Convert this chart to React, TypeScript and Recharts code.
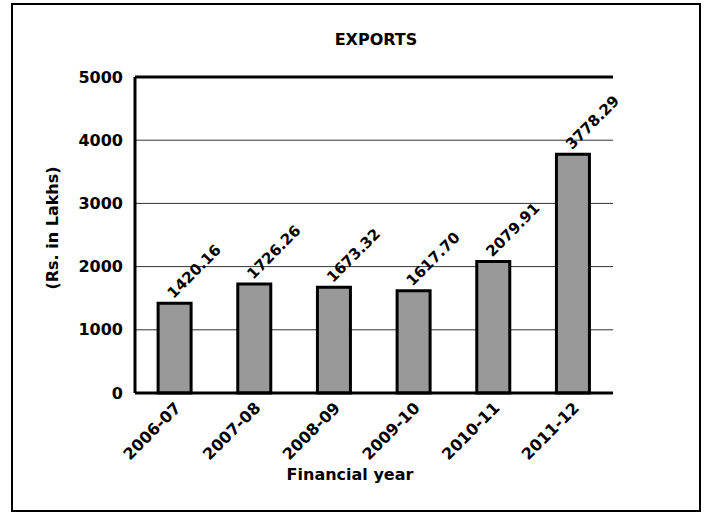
import { BarChart, Bar, XAxis, YAxis, CartesianGrid, LabelList, ReferenceLine } from "recharts";

const years = ["2006-07", "2007-08", "2008-09", "2009-10", "2010-11", "2011-12"];
const exportValues = [1420.16, 1726.26, 1673.32, 1617.7, 2079.91, 3778.29];
const valueLabels = ["1420.16", "1726.26", "1673.32", "1617.70", "2079.91", "3778.29"];
const yTicks = [0, 1000, 2000, 3000, 4000, 5000];

const FONT = "Verdana, 'DejaVu Sans', sans-serif";

const data = years.map((y, i) => ({ year: y, value: exportValues[i], label: valueLabels[i] }));

function XTick(props: any) {
  const { x, y, payload } = props;
  const ax = x + 7;
  const ay = y + 8;
  return (
    <text
      x={ax}
      y={ay}
      transform={`rotate(-45, ${ax}, ${ay})`}
      textAnchor="end"
      fontFamily={FONT}
      fontWeight="bold"
      fontSize={16}
      fill="#000"
    >
      {payload.value}
    </text>
  );
}

function BarLabel(props: any) {
  const { x, y, width, index } = props;
  const ax = x + width / 2 - 1;
  const ay = y - 4;
  return (
    <text
      x={ax}
      y={ay}
      transform={`rotate(-45, ${ax}, ${ay})`}
      fontFamily={FONT}
      fontWeight="bold"
      fontSize={15}
      fill="#000"
    >
      {valueLabels[index]}
    </text>
  );
}

export default function App() {
  return (
    <div style={{ position: "absolute", left: 0, top: 0, width: 706, height: 513, background: "#fff" }}>
      <div
        style={{
          position: "absolute",
          left: 11,
          top: 3,
          width: 690,
          height: 509,
          border: "2px solid #000",
          boxSizing: "border-box",
        }}
      />
      <div
        style={{
          position: "absolute",
          left: 0,
          width: 752,
          top: 30,
          textAlign: "center",
          fontFamily: FONT,
          fontWeight: "bold",
          fontSize: 16,
        }}
      >
        EXPORTS
      </div>
      <div style={{ position: "absolute", left: 0, top: 0 }}>
        <BarChart
          width={706}
          height={513}
          data={data}
          margin={{ top: 77, right: 93, left: 75, bottom: 60 }}
          barCategoryGap="29%"
        >
          <CartesianGrid vertical={false} stroke="#333" strokeWidth={1} />
          <XAxis
            dataKey="year"
            tick={<XTick />}
            tickLine={false}
            axisLine={{ stroke: "#000", strokeWidth: 3 }}
            height={60}
            interval={0}
          />
          <YAxis
            domain={[0, 5000]}
            ticks={yTicks}
            width={60}
            tickLine={false}
            axisLine={{ stroke: "#000", strokeWidth: 3 }}
            tick={{ fontFamily: FONT, fontWeight: "bold", fontSize: 16, fill: "#000" }}
            tickMargin={6}
          />
          <YAxis
            yAxisId="right"
            orientation="right"
            domain={[0, 5000]}
            width={0}
            tick={false}
            tickLine={false}
            axisLine={{ stroke: "#000", strokeWidth: 3 }}
          />
          <ReferenceLine y={5000} stroke="#000" strokeWidth={3} />
          <Bar dataKey="value" fill="#999999" stroke="#000" strokeWidth={3} isAnimationActive={false}>
            <LabelList dataKey="label" content={<BarLabel />} />
          </Bar>
        </BarChart>
      </div>
      <div
        style={{
          position: "absolute",
          left: 52,
          top: 228,
          transform: "translate(-50%, -50%) rotate(-90deg)",
          fontFamily: FONT,
          fontWeight: "bold",
          fontSize: 16,
          whiteSpace: "nowrap",
        }}
      >
        (Rs. in Lakhs)
      </div>
      <div
        style={{
          position: "absolute",
          left: 0,
          width: 700,
          top: 465,
          textAlign: "center",
          fontFamily: FONT,
          fontWeight: "bold",
          fontSize: 16,
        }}
      >
        Financial year
      </div>
    </div>
  );
}
